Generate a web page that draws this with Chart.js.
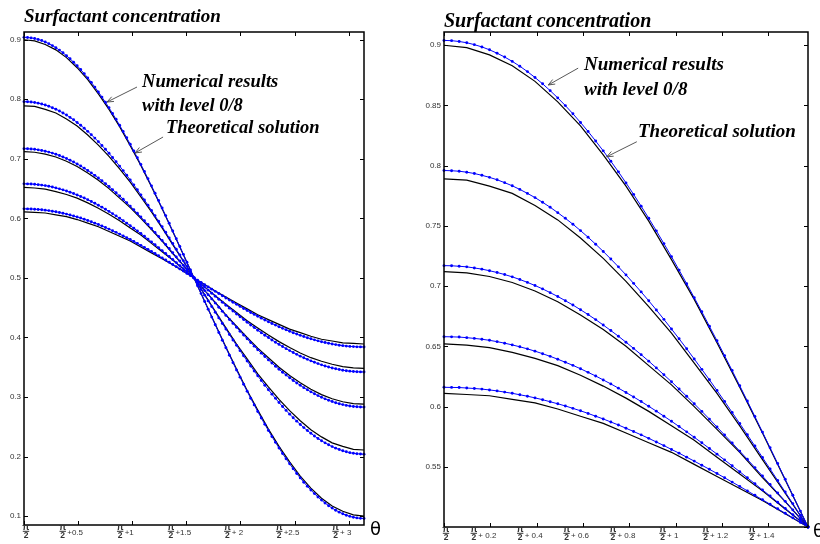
<!DOCTYPE html>
<html>
<head>
<meta charset="utf-8">
<title>Surfactant concentration</title>
<script src="https://cdn.jsdelivr.net/npm/chart.js@4/dist/chart.umd.min.js"></script>
<style>
  html, body { margin: 0; padding: 0; background: #fff; }
  #wrap { position: relative; width: 820px; height: 544px; overflow: hidden; }
  canvas { position: absolute; top: 0; }
  #full { left: 0; }
  #half { left: 410px; }
</style>
</head>
<body>
<div id="wrap">
  <canvas id="full" width="410" height="544"></canvas>
  <canvas id="half" width="410" height="544"></canvas>
</div>
<script>
// Offsets t from pi/2 at which the numerical solution is sampled (step pi/96)
const thetaNum = [
  0, 0.0327, 0.0654, 0.0982, 0.1309, 0.1636, 0.1963, 0.2291, 0.2618, 0.2945,
  0.3272, 0.3600, 0.3927, 0.4254, 0.4581, 0.4909, 0.5236, 0.5563, 0.5890, 0.6218,
  0.6545, 0.6872, 0.7199, 0.7527, 0.7854, 0.8181, 0.8508, 0.8836, 0.9163, 0.9490,
  0.9817, 1.0145, 1.0472, 1.0799, 1.1126, 1.1454, 1.1781, 1.2108, 1.2435, 1.2763,
  1.3090, 1.3417, 1.3744, 1.4072, 1.4399, 1.4726, 1.5053, 1.5381, 1.5708,
  1.6035, 1.6362, 1.6690, 1.7017, 1.7344, 1.7671, 1.7999, 1.8326, 1.8653, 1.8980,
  1.9308, 1.9635, 1.9962, 2.0289, 2.0617, 2.0944, 2.1271, 2.1598, 2.1926, 2.2253,
  2.2580, 2.2907, 2.3235, 2.3562, 2.3889, 2.4216, 2.4544, 2.4871, 2.5198, 2.5525,
  2.5853, 2.6180, 2.6507, 2.6834, 2.7162, 2.7489, 2.7816, 2.8143, 2.8471, 2.8798,
  2.9125, 2.9452, 2.9780, 3.0107, 3.0434, 3.0761, 3.1089, 3.1416
];

// Offsets at which the theoretical solution is tabulated (step pi/32)
const thetaExact = [
  0, 0.0982, 0.1963, 0.2945, 0.3927, 0.4909, 0.5890, 0.6872, 0.7854, 0.8836,
  0.9817, 1.0799, 1.1781, 1.2763, 1.3744, 1.4726, 1.5708, 1.6690, 1.7671, 1.8653,
  1.9635, 2.0617, 2.1598, 2.2580, 2.3562, 2.4544, 2.5525, 2.6507, 2.7489, 2.8471,
  2.9452, 3.0434, 3.1416
];

// Numerical results (level 0/8), one array per time level
const numCurve1 = [
  0.9040, 0.9038, 0.9031, 0.9021, 0.9005, 0.8986, 0.8962, 0.8934, 0.8902, 0.8866,
  0.8826, 0.8781, 0.8732, 0.8680, 0.8623, 0.8563, 0.8499, 0.8431, 0.8359, 0.8284,
  0.8205, 0.8123, 0.8037, 0.7949, 0.7857, 0.7762, 0.7664, 0.7563, 0.7459, 0.7353,
  0.7245, 0.7133, 0.7020, 0.6904, 0.6787, 0.6667, 0.6546, 0.6423, 0.6299, 0.6173,
  0.6046, 0.5917, 0.5788, 0.5658, 0.5527, 0.5396, 0.5264, 0.5132, 0.5000,
  0.4868, 0.4736, 0.4604, 0.4473, 0.4342, 0.4212, 0.4083, 0.3954, 0.3827, 0.3701,
  0.3577, 0.3454, 0.3333, 0.3213, 0.3096, 0.2980, 0.2867, 0.2755, 0.2647, 0.2541,
  0.2437, 0.2336, 0.2238, 0.2143, 0.2051, 0.1963, 0.1877, 0.1795, 0.1716, 0.1641,
  0.1569, 0.1501, 0.1437, 0.1377, 0.1320, 0.1268, 0.1219, 0.1174, 0.1134, 0.1098,
  0.1066, 0.1038, 0.1014, 0.0995, 0.0979, 0.0969, 0.0962, 0.0960
];
const numCurve2 = [
  0.7960, 0.7958, 0.7954, 0.7946, 0.7935, 0.7920, 0.7903, 0.7883, 0.7859, 0.7833,
  0.7803, 0.7770, 0.7735, 0.7696, 0.7655, 0.7610, 0.7563, 0.7514, 0.7461, 0.7406,
  0.7348, 0.7288, 0.7225, 0.7160, 0.7093, 0.7023, 0.6952, 0.6878, 0.6802, 0.6724,
  0.6644, 0.6563, 0.6480, 0.6395, 0.6309, 0.6222, 0.6133, 0.6043, 0.5951, 0.5859,
  0.5766, 0.5672, 0.5577, 0.5482, 0.5386, 0.5290, 0.5194, 0.5097, 0.5000,
  0.4903, 0.4806, 0.4710, 0.4614, 0.4518, 0.4423, 0.4328, 0.4234, 0.4141, 0.4049,
  0.3957, 0.3867, 0.3778, 0.3691, 0.3605, 0.3520, 0.3437, 0.3356, 0.3276, 0.3198,
  0.3122, 0.3048, 0.2977, 0.2907, 0.2840, 0.2775, 0.2712, 0.2652, 0.2594, 0.2539,
  0.2486, 0.2437, 0.2390, 0.2345, 0.2304, 0.2265, 0.2230, 0.2197, 0.2167, 0.2141,
  0.2117, 0.2097, 0.2080, 0.2065, 0.2054, 0.2046, 0.2042, 0.2040
];
const numCurve3 = [
  0.7170, 0.7169, 0.7165, 0.7160, 0.7151, 0.7141, 0.7128, 0.7113, 0.7096, 0.7077,
  0.7055, 0.7031, 0.7005, 0.6977, 0.6946, 0.6914, 0.6879, 0.6843, 0.6804, 0.6764,
  0.6722, 0.6677, 0.6631, 0.6584, 0.6534, 0.6483, 0.6431, 0.6377, 0.6321, 0.6264,
  0.6206, 0.6146, 0.6085, 0.6023, 0.5960, 0.5896, 0.5830, 0.5764, 0.5698, 0.5630,
  0.5562, 0.5493, 0.5423, 0.5353, 0.5283, 0.5213, 0.5142, 0.5071, 0.5000,
  0.4929, 0.4858, 0.4787, 0.4717, 0.4647, 0.4577, 0.4507, 0.4438, 0.4370, 0.4302,
  0.4236, 0.4170, 0.4104, 0.4040, 0.3977, 0.3915, 0.3854, 0.3794, 0.3736, 0.3679,
  0.3623, 0.3569, 0.3517, 0.3466, 0.3416, 0.3369, 0.3323, 0.3278, 0.3236, 0.3196,
  0.3157, 0.3121, 0.3086, 0.3054, 0.3023, 0.2995, 0.2969, 0.2945, 0.2923, 0.2904,
  0.2887, 0.2872, 0.2859, 0.2849, 0.2840, 0.2835, 0.2831, 0.2830
];
const numCurve4 = [
  0.6580, 0.6579, 0.6577, 0.6572, 0.6566, 0.6559, 0.6550, 0.6539, 0.6526, 0.6512,
  0.6496, 0.6479, 0.6460, 0.6439, 0.6417, 0.6393, 0.6368, 0.6342, 0.6314, 0.6284,
  0.6254, 0.6221, 0.6188, 0.6153, 0.6117, 0.6080, 0.6042, 0.6002, 0.5962, 0.5920,
  0.5878, 0.5834, 0.5790, 0.5745, 0.5699, 0.5652, 0.5605, 0.5557, 0.5508, 0.5459,
  0.5409, 0.5359, 0.5308, 0.5257, 0.5206, 0.5155, 0.5103, 0.5052, 0.5000,
  0.4948, 0.4897, 0.4845, 0.4794, 0.4743, 0.4692, 0.4641, 0.4591, 0.4541, 0.4492,
  0.4443, 0.4395, 0.4348, 0.4301, 0.4255, 0.4210, 0.4166, 0.4122, 0.4080, 0.4038,
  0.3998, 0.3958, 0.3920, 0.3883, 0.3847, 0.3812, 0.3779, 0.3746, 0.3716, 0.3686,
  0.3658, 0.3632, 0.3607, 0.3583, 0.3561, 0.3540, 0.3521, 0.3504, 0.3488, 0.3474,
  0.3461, 0.3450, 0.3441, 0.3434, 0.3428, 0.3423, 0.3421, 0.3420
];
const numCurve5 = [
  0.6160, 0.6159, 0.6158, 0.6154, 0.6150, 0.6145, 0.6138, 0.6130, 0.6120, 0.6110,
  0.6098, 0.6086, 0.6072, 0.6057, 0.6040, 0.6023, 0.6005, 0.5985, 0.5965, 0.5943,
  0.5920, 0.5897, 0.5872, 0.5847, 0.5820, 0.5793, 0.5765, 0.5736, 0.5706, 0.5676,
  0.5644, 0.5613, 0.5580, 0.5547, 0.5513, 0.5479, 0.5444, 0.5409, 0.5373, 0.5337,
  0.5300, 0.5263, 0.5226, 0.5189, 0.5151, 0.5114, 0.5076, 0.5038, 0.5000,
  0.4962, 0.4924, 0.4886, 0.4849, 0.4811, 0.4774, 0.4737, 0.4700, 0.4663, 0.4627,
  0.4591, 0.4556, 0.4521, 0.4487, 0.4453, 0.4420, 0.4387, 0.4356, 0.4324, 0.4294,
  0.4264, 0.4235, 0.4207, 0.4180, 0.4153, 0.4128, 0.4103, 0.4080, 0.4057, 0.4035,
  0.4015, 0.3995, 0.3977, 0.3960, 0.3943, 0.3928, 0.3914, 0.3902, 0.3890, 0.3880,
  0.3870, 0.3862, 0.3855, 0.3850, 0.3846, 0.3842, 0.3841, 0.3840
];

// Theoretical solution, same time levels
const exactCurve1 = [0.900, 0.898, 0.892, 0.883, 0.870, 0.853, 0.833, 0.809, 0.783, 0.754, 0.722, 0.689, 0.653, 0.616, 0.578, 0.539, 0.500, 0.461, 0.422, 0.384, 0.347, 0.311, 0.278, 0.246, 0.217, 0.191, 0.167, 0.147, 0.130, 0.117, 0.108, 0.102, 0.100];
const exactCurve2 = [0.789, 0.788, 0.783, 0.777, 0.767, 0.755, 0.740, 0.723, 0.704, 0.683, 0.661, 0.636, 0.611, 0.584, 0.556, 0.528, 0.500, 0.472, 0.444, 0.416, 0.389, 0.364, 0.339, 0.317, 0.296, 0.277, 0.260, 0.245, 0.233, 0.223, 0.217, 0.212, 0.211];
const exactCurve3 = [0.712, 0.711, 0.708, 0.703, 0.696, 0.687, 0.676, 0.664, 0.650, 0.634, 0.618, 0.600, 0.581, 0.562, 0.541, 0.521, 0.500, 0.479, 0.459, 0.438, 0.419, 0.400, 0.382, 0.366, 0.350, 0.336, 0.324, 0.313, 0.304, 0.297, 0.292, 0.289, 0.288];
const exactCurve4 = [0.652, 0.651, 0.649, 0.645, 0.640, 0.634, 0.626, 0.617, 0.607, 0.596, 0.584, 0.572, 0.558, 0.544, 0.530, 0.515, 0.500, 0.485, 0.470, 0.456, 0.442, 0.428, 0.416, 0.404, 0.393, 0.383, 0.374, 0.366, 0.360, 0.355, 0.351, 0.349, 0.348];
const exactCurve5 = [0.611, 0.610, 0.609, 0.606, 0.603, 0.598, 0.592, 0.586, 0.578, 0.570, 0.562, 0.552, 0.542, 0.532, 0.522, 0.511, 0.500, 0.489, 0.478, 0.468, 0.458, 0.448, 0.438, 0.430, 0.422, 0.414, 0.408, 0.402, 0.397, 0.394, 0.391, 0.390, 0.389];

// Tick positions and the text after the pi/2 fraction
const xTicksFull = [0, 0.5, 1, 1.5, 2, 2.5, 3];
const xTextFull = ['', '+0.5', '+1', '+1.5', '+ 2', '+2.5', '+ 3'];
const xTicksHalf = [0, 0.2, 0.4, 0.6, 0.8, 1, 1.2, 1.4];
const xTextHalf = ['', '+ 0.2', '+ 0.4', '+ 0.6', '+ 0.8', '+ 1', '+ 1.2', '+ 1.4'];
const yTicksFull = [0.1, 0.2, 0.3, 0.4, 0.5, 0.6, 0.7, 0.8, 0.9];
const yTextFull = ['0.1', '0.2', '0.3', '0.4', '0.5', '0.6', '0.7', '0.8', '0.9'];
const yTicksHalf = [0.5, 0.55, 0.6, 0.65, 0.7, 0.75, 0.8, 0.85, 0.9];
const yTextHalf = ['', '0.55', '0.6', '0.65', '0.7', '0.75', '0.8', '0.85', '0.9'];

const numCurves = [numCurve1, numCurve2, numCurve3, numCurve4, numCurve5];
const exactCurves = [exactCurve1, exactCurve2, exactCurve3, exactCurve4, exactCurve5];

function buildDatasets() {
  const sets = [];
  // numerical curves first so they are painted over the theoretical lines
  numCurves.forEach(arr => sets.push({
    data: arr.map((v, i) => ({ x: thetaNum[i], y: v })),
    borderColor: '#0000ff',
    backgroundColor: '#0000ff',
    borderWidth: 1,
    pointRadius: 1.45,
    pointBorderWidth: 0,
    pointHoverRadius: 0,
    tension: 0,
    clip: 3
  }));
  exactCurves.forEach(arr => sets.push({
    data: arr.map((v, i) => ({ x: thetaExact[i], y: v })),
    borderColor: '#000000',
    borderWidth: 1.2,
    pointRadius: 0,
    pointHoverRadius: 0,
    tension: 0,
    clip: 3
  }));
  return sets;
}

function line(ctx, x1, y1, x2, y2) {
  ctx.beginPath();
  ctx.moveTo(x1, y1);
  ctx.lineTo(x2, y2);
  ctx.stroke();
}

function framePlugin(cfg) {
  return {
    id: 'frame',
    afterDraw(chart) {
      const { ctx, chartArea: a, scales } = chart;
      const sx = scales.x, sy = scales.y;
      const sans = 'px "Liberation Sans", Arial, sans-serif';
      ctx.save();

      // box and inward ticks on all four sides
      ctx.strokeStyle = '#000';
      ctx.lineWidth = 1.5;
      ctx.strokeRect(a.left, a.top, a.right - a.left, a.bottom - a.top);
      ctx.lineWidth = 1;
      cfg.xTicks.forEach(v => {
        const px = Math.round(sx.getPixelForValue(v)) + 0.5;
        line(ctx, px, a.bottom, px, a.bottom - 4);
        line(ctx, px, a.top, px, a.top + 4);
      });
      cfg.yTicks.forEach(v => {
        const py = Math.round(sy.getPixelForValue(v)) + 0.5;
        line(ctx, a.left, py, a.left + 4, py);
        line(ctx, a.right, py, a.right - 4, py);
      });

      // y tick labels
      ctx.fillStyle = '#333';
      ctx.font = cfg.tickFont + sans;
      ctx.textAlign = 'right';
      ctx.textBaseline = 'middle';
      cfg.yTicks.forEach((v, i) => {
        ctx.fillText(cfg.yText[i], a.left - 3, sy.getPixelForValue(v));
      });

      // x tick labels: pi over 2, followed by the offset
      ctx.textBaseline = 'alphabetic';
      const fracW = 7;
      cfg.xTicks.forEach((v, i) => {
        const px = sx.getPixelForValue(v);
        ctx.font = cfg.tickFont + sans;
        const txt = cfg.xText[i];
        const tw = txt ? ctx.measureText(txt).width : 0;
        let left;
        if (txt) {
          left = px - 7 - (fracW + 1 + tw) / 2;
        } else {
          left = px - fracW / 2 + 2;
        }
        const cx = left + fracW / 2;
        const top = a.bottom + cfg.fracTop;
        ctx.textAlign = 'center';
        ctx.font = 'bold ' + (cfg.tickFont + 1.5) + sans;
        ctx.fillText('\u03c0', cx, top + 4.3);
        ctx.fillRect(cx - 3.2, top + 4.8, 6.4, 1);
        ctx.font = 'bold ' + (cfg.tickFont + 0.5) + sans;
        ctx.fillText('2', cx, top + 11.5);
        if (txt) {
          ctx.textAlign = 'left';
          ctx.font = cfg.tickFont + sans;
          ctx.fillText(txt, left + fracW + 1, top + cfg.plusDy);
        }
      });

      // axis symbol
      ctx.fillStyle = '#000';
      ctx.textAlign = 'left';
      ctx.font = '18px "DejaVu Sans", sans-serif';
      ctx.fillText('\u03b8', a.right + cfg.thetaDx, a.bottom + 10);

      // title
      ctx.font = 'bold italic ' + cfg.titleSize + 'px "Liberation Serif", "Times New Roman", serif';
      ctx.fillText('Surfactant concentration', a.left, a.top - cfg.titleGap);

      // curve annotations with arrows
      ctx.font = 'bold italic ' + cfg.noteSize + 'px "Liberation Serif", "Times New Roman", serif';
      cfg.notes.forEach(n => {
        ctx.fillText(n.text, sx.getPixelForValue(n.t), sy.getPixelForValue(n.v));
      });
      ctx.strokeStyle = '#444';
      ctx.lineWidth = 0.9;
      cfg.arrows.forEach(ar => {
        const x1 = sx.getPixelForValue(ar.from[0]), y1 = sy.getPixelForValue(ar.from[1]);
        const x2 = sx.getPixelForValue(ar.to[0]), y2 = sy.getPixelForValue(ar.to[1]);
        line(ctx, x1, y1, x2, y2);
        const ang = Math.atan2(y1 - y2, x1 - x2);
        const h = 7, w = 0.38;
        line(ctx, x2, y2, x2 + h * Math.cos(ang + w), y2 + h * Math.sin(ang + w));
        line(ctx, x2, y2, x2 + h * Math.cos(ang - w), y2 + h * Math.sin(ang - w));
      });

      ctx.restore();
    }
  };
}

function makeChart(id, xMax, yMin, yMax, padding, cfg) {
  return new Chart(document.getElementById(id), {
    type: 'line',
    data: { datasets: buildDatasets() },
    options: {
      responsive: false,
      animation: false,
      devicePixelRatio: 1,
      layout: { padding },
      events: [],
      scales: {
        x: { type: 'linear', min: 0, max: xMax, display: false },
        y: { type: 'linear', min: yMin, max: yMax, display: false }
      },
      plugins: { legend: { display: false }, tooltip: { enabled: false }, title: { display: false } }
    },
    plugins: [framePlugin(cfg)]
  });
}

makeChart('full', 3.1416, 0.085, 0.913,
  { left: 24, top: 32, right: 46, bottom: 19 },
  {
    xTicks: xTicksFull, xText: xTextFull, yTicks: yTicksFull, yText: yTextFull,
    tickFont: 8, fracTop: 1, plusDy: 8.5, thetaDx: 6,
    titleSize: 19, titleGap: 10, noteSize: 18.5,
    notes: [
      { text: 'Numerical results', t: 1.091, v: 0.8206 },
      { text: 'with level 0/8', t: 1.091, v: 0.7803 },
      { text: 'Theoretical solution', t: 1.312, v: 0.7434 }
    ],
    arrows: [
      { from: [1.044, 0.8206], to: [0.767, 0.7954] },
      { from: [1.285, 0.7366], to: [1.026, 0.7098] }
    ]
  });

makeChart('half', 1.5708, 0.5, 0.911,
  { left: 34, top: 32, right: 12, bottom: 17 },
  {
    xTicks: xTicksHalf, xText: xTextHalf, yTicks: yTicksHalf, yText: yTextHalf,
    tickFont: 8, fracTop: 1, plusDy: 9.5, thetaDx: 5,
    titleSize: 20, titleGap: 5.5, noteSize: 19,
    notes: [
      { text: 'Numerical results', t: 0.604, v: 0.8794 },
      { text: 'with level 0/8', t: 0.604, v: 0.8587 },
      { text: 'Theoretical solution', t: 0.837, v: 0.8238 }
    ],
    arrows: [
      { from: [0.579, 0.881], to: [0.450, 0.867] },
      { from: [0.832, 0.8199], to: [0.702, 0.8074] }
    ]
  });
</script>
</body>
</html>
